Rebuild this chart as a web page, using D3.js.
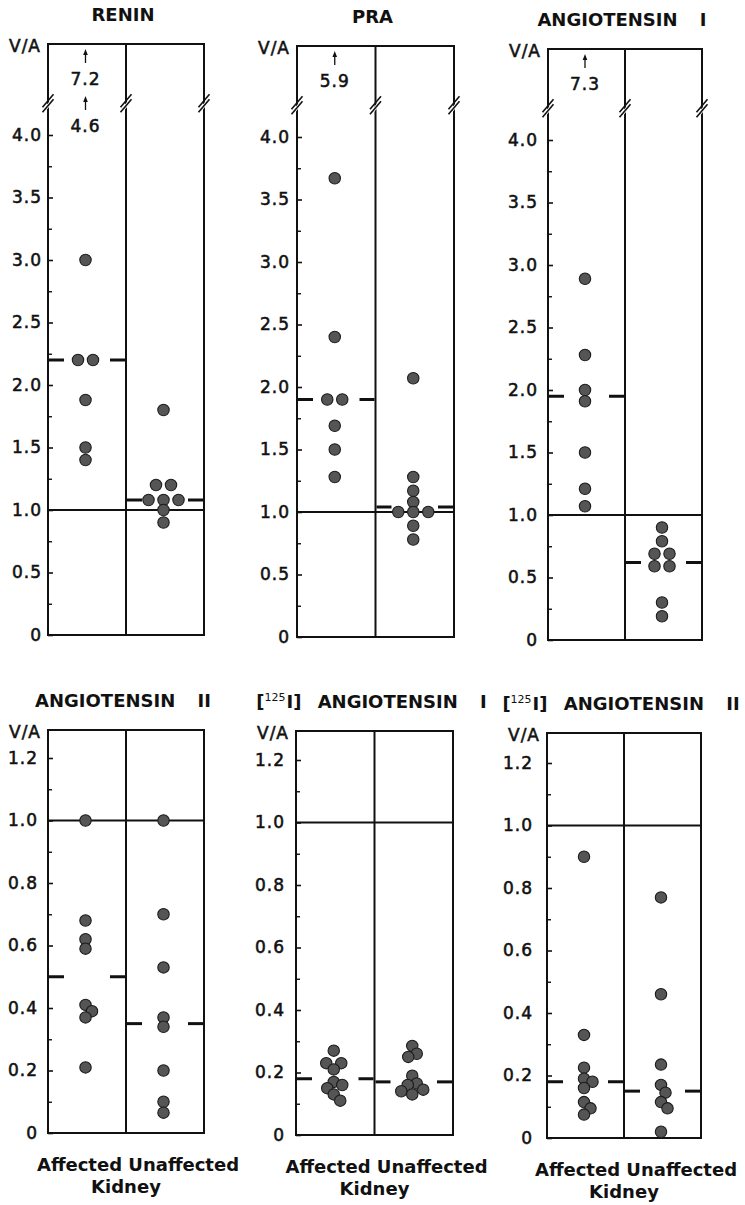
<!DOCTYPE html>
<html>
<head>
<meta charset="utf-8">
<script src="https://cdn.jsdelivr.net/npm/d3@7"></script>
<style>
  html, body { margin: 0; padding: 0; background: #fff; }
  svg { display: block; }
  text { font-family: "DejaVu Sans", "Liberation Sans", sans-serif; fill: #111; }
  .title, .kidney { font-weight: bold; font-size: 18px; }
  .tick-label, .va, .offscale { font-size: 17px; letter-spacing: 1px; stroke: #111; stroke-width: 0.55px; }
</style>
</head>
<body>
<svg id="chart" width="745" height="1205"></svg>
<script>
// Venous/arterial (V/A) ratios per patient, affected vs unaffected kidney
const groups = ["Affected", "Unaffected"];
const xTitle = "Kidney";

const titles = [
  "RENIN",
  "PRA",
  "ANGIOTENSIN I",
  "ANGIOTENSIN II",
  "[125I] ANGIOTENSIN I",
  "[125I] ANGIOTENSIN II"
];

const reninAffected = [7.2, 4.6, 3.0, 2.2, 2.2, 1.88, 1.5, 1.4];
const reninUnaffected = [1.8, 1.2, 1.2, 1.08, 1.08, 1.08, 1.0, 0.9];
const reninMeans = [2.2, 1.08];

const praAffected = [5.9, 3.67, 2.4, 1.9, 1.9, 1.69, 1.5, 1.28];
const praUnaffected = [2.07, 1.28, 1.17, 1.08, 1.0, 1.0, 1.0, 0.89, 0.78];
const praMeans = [1.9, 1.04];

const angIAffected = [7.3, 2.89, 2.28, 2.0, 1.91, 1.5, 1.21, 1.07];
const angIUnaffected = [0.9, 0.79, 0.69, 0.69, 0.59, 0.59, 0.3, 0.19];
const angIMeans = [1.95, 0.62];

const angIIAffected = [1.0, 0.68, 0.62, 0.59, 0.41, 0.39, 0.37, 0.21];
const angIIUnaffected = [1.0, 0.7, 0.53, 0.37, 0.34, 0.2, 0.1, 0.065];
const angIIMeans = [0.5, 0.35];

const i125AngIAffected = [0.27, 0.23, 0.23, 0.21, 0.17, 0.16, 0.15, 0.13, 0.11];
const i125AngIUnaffected = [0.285, 0.26, 0.25, 0.19, 0.165, 0.16, 0.145, 0.14, 0.13];
const i125AngIMeans = [0.18, 0.17];

const i125AngIIAffected = [0.9, 0.33, 0.225, 0.19, 0.18, 0.16, 0.115, 0.095, 0.075];
const i125AngIIUnaffected = [0.77, 0.46, 0.235, 0.17, 0.145, 0.115, 0.095, 0.02];
const i125AngIIMeans = [0.18, 0.15];

const upperTicks = [0, 0.5, 1.0, 1.5, 2.0, 2.5, 3.0, 3.5, 4.0];
const upperMinorTicks = [0.25, 0.75, 1.25, 1.75, 2.25, 2.75, 3.25, 3.75];
const lowerTicks = [0, 0.2, 0.4, 0.6, 0.8, 1.0, 1.2];
const lowerMinorTicks = [0.1, 0.3, 0.5, 0.7, 0.9, 1.1];

const panelData = [
  { title: titles[0], values: [reninAffected, reninUnaffected], means: reninMeans },
  { title: titles[1], values: [praAffected, praUnaffected], means: praMeans },
  { title: titles[2], values: [angIAffected, angIUnaffected], means: angIMeans },
  { title: titles[3], values: [angIIAffected, angIIUnaffected], means: angIIMeans },
  { title: titles[4], values: [i125AngIAffected, i125AngIUnaffected], means: i125AngIMeans },
  { title: titles[5], values: [i125AngIIAffected, i125AngIIUnaffected], means: i125AngIIMeans }
];

// page layout of the six panels
const layout = [
  { left: 48,  right: 204, top: 44,  zero: 635,  labelGap: 6,  range: "upper" },
  { left: 297, right: 454, top: 46,  zero: 637,  labelGap: 7,  range: "upper" },
  { left: 548, right: 702, top: 49,  zero: 640,  labelGap: 10, range: "upper" },
  { left: 48,  right: 204, top: 730, zero: 1133, labelGap: 10, range: "lower" },
  { left: 296, right: 453, top: 731, zero: 1135, labelGap: 11, range: "lower" },
  { left: 547, right: 701, top: 733, zero: 1138, labelGap: 14, range: "lower" }
];

const ranges = {
  upper: { max: 4, pxPerUnit: 125, ticks: upperTicks, minor: upperMinorTicks, brk: 4.25 },
  lower: { max: 1.2, pxPerUnit: 312.5, ticks: lowerTicks, minor: lowerMinorTicks, brk: null }
};

const INK = "#111";
const DOT_R = 5.7;
const svg = d3.select("#chart");
const fmt1 = d3.format(".1f");
const tickFmt = v => (v === 0 ? "0" : fmt1(v));

// Equal values sit side by side in a centred row; other points slide
// sideways only as far as needed to avoid covering a neighbour.
function swarm(values, y, cx) {
  const rowGap = 15, minDist = 9;
  const placed = [];
  const sorted = values.slice().sort((a, b) => b - a);
  d3.groups(sorted, v => v).forEach(([v, arr]) => {
    const py = y(v);
    if (arr.length > 1) {
      arr.forEach((_, i) => placed.push({ v, x: cx + (i - (arr.length - 1) / 2) * rowGap, y: py }));
    } else {
      let off = 0;
      for (let k = 0; k < 400; k++) {
        const cand = k === 0 ? 0 : (k % 2 ? 1 : -1) * Math.ceil(k / 2) * 0.5;
        if (placed.every(p => Math.hypot(p.x - (cx + cand), p.y - py) >= minDist)) { off = cand; break; }
      }
      placed.push({ v, x: cx + off, y: py });
    }
  });
  return placed;
}

function drawTitle(g, title, cx, y) {
  const t = g.append("text").attr("class", "title")
    .attr("x", cx).attr("y", y).attr("text-anchor", "middle");
  title.split(" ").forEach((word, i) => {
    const m = word.match(/^\[(\d+)(.+)$/);
    if (m) {
      t.append("tspan").text("[");
      t.append("tspan").attr("dy", -7).attr("font-size", 11).attr("font-weight", "normal").text(m[1]);
      t.append("tspan").attr("dy", 7).attr("dx", 1).text(m[2]);
    } else if (i === 0) {
      t.append("tspan").text(word);
    } else {
      // wide gaps between the words of the heading
      t.append("tspan").attr("dx", word.length <= 2 ? 16 : 10).text(" " + word);
    }
  });
}

panelData.forEach((pd, i) => {
  const L = layout[i];
  const R = ranges[L.range];
  const g = svg.append("g");

  const y = d3.scaleLinear().domain([0, R.max]).range([L.zero, L.zero - R.max * R.pxPerUnit]);
  const x = d3.scaleBand().domain(groups).range([L.left, L.right]);
  const mid = x(groups[1]);

  // title and axis unit
  drawTitle(g, pd.title, (L.left + L.right) / 2 - 3, L.top - 23);
  g.append("text").attr("class", "va")
    .attr("x", L.left - 7).attr("y", L.top + 8)
    .attr("text-anchor", "end").text("V/A");

  // reference line at V/A = 1
  g.append("line")
    .attr("x1", L.left).attr("x2", L.right)
    .attr("y1", y(1)).attr("y2", y(1))
    .attr("stroke", INK).attr("stroke-width", 2);

  // frame and column divider
  g.append("rect")
    .attr("x", L.left).attr("y", L.top)
    .attr("width", L.right - L.left).attr("height", L.zero - L.top)
    .attr("fill", "none").attr("stroke", INK).attr("stroke-width", 2);
  g.append("line")
    .attr("x1", mid).attr("x2", mid).attr("y1", L.top).attr("y2", L.zero)
    .attr("stroke", INK).attr("stroke-width", 2);

  // y axis: ticks point into the plot
  const axis = d3.axisLeft(y).tickValues(R.ticks).tickFormat(tickFmt)
    .tickSizeInner(-5).tickSizeOuter(0).tickPadding(L.labelGap);
  const ag = g.append("g").attr("transform", `translate(${L.left},0)`).call(axis);
  ag.select(".domain").remove();
  ag.selectAll(".tick line").attr("stroke", INK).attr("stroke-width", 1.6);
  ag.selectAll(".tick text").attr("class", "tick-label")
    .attr("fill", INK).attr("font-size", null).attr("font-family", null);
  ag.attr("font-size", null).attr("font-family", null);

  const minorAxis = d3.axisLeft(y).tickValues(R.minor).tickFormat("")
    .tickSizeInner(-4).tickSizeOuter(0);
  const mg = g.append("g").attr("transform", `translate(${L.left},0)`).call(minorAxis);
  mg.select(".domain").remove();
  mg.selectAll(".tick line").attr("stroke", INK).attr("stroke-width", 1.4);

  // scale break on each vertical line
  if (R.brk) {
    const by = y(R.brk);
    [L.left, mid, L.right].forEach(bx => {
      g.append("polygon")
        .attr("points", [[bx - 5, by + 5.5], [bx + 5, by - 6.5], [bx + 5, by - 1.5], [bx - 5, by + 10.5]].map(p => p.join(",")).join(" "))
        .attr("fill", "#fff");
      [0, 5].forEach(s => {
        g.append("line")
          .attr("x1", bx - 5.5).attr("y1", by + 6 + s - 2.5)
          .attr("x2", bx + 5.5).attr("y2", by - 7 + s - 2.5)
          .attr("stroke", INK).attr("stroke-width", 1.6);
      });
    });
  }

  groups.forEach((grp, gi) => {
    const cx = x(grp) + x.bandwidth() / 2 - 1.5;
    const vals = pd.values[gi];
    const onScale = R.brk ? vals.filter(v => v <= R.brk) : vals;
    const offScale = R.brk ? vals.filter(v => v > R.brk).sort((a, b) => b - a) : [];

    // group mean: short bars at both edges of the column
    const my = y(pd.means[gi]);
    const x0 = x(grp), x1 = x(grp) + x.bandwidth();
    [[x0 + 1, x0 + 16], [x1 - 16, x1 - 1]].forEach(([a, b]) => {
      g.append("line")
        .attr("x1", a).attr("x2", b).attr("y1", my).attr("y2", my)
        .attr("stroke", INK).attr("stroke-width", 3);
    });

    // patients
    g.append("g").selectAll("circle")
      .data(swarm(onScale, y, cx))
      .join("circle")
      .attr("cx", d => d.x).attr("cy", d => d.y).attr("r", DOT_R)
      .attr("fill", "#555").attr("stroke", "#1c1c1c").attr("stroke-width", 1.1);

    // values above the break: arrow and number
    offScale.forEach((v, k) => {
      const ay = L.top + 5 + k * 47;
      g.append("line")
        .attr("x1", cx).attr("x2", cx).attr("y1", ay + 3).attr("y2", ay + 14)
        .attr("stroke", INK).attr("stroke-width", 1.3);
      g.append("path")
        .attr("d", `M${cx},${ay} L${cx - 2.3},${ay + 6} L${cx + 2.3},${ay + 6} Z`)
        .attr("fill", INK);
      g.append("text").attr("class", "offscale")
        .attr("x", cx).attr("y", ay + 36).attr("text-anchor", "middle")
        .text(fmt1(v));
    });
  });

  // category labels under the lower row
  if (L.range === "lower") {
    g.append("text").attr("class", "kidney")
      .attr("x", (L.left + L.right) / 2 + 12).attr("y", L.zero + 38)
      .attr("text-anchor", "middle").text(groups.join(" "));
    g.append("text").attr("class", "kidney")
      .attr("x", (L.left + L.right) / 2).attr("y", L.zero + 60)
      .attr("text-anchor", "middle").text(xTitle);
  }
});
</script>
</body>
</html>
